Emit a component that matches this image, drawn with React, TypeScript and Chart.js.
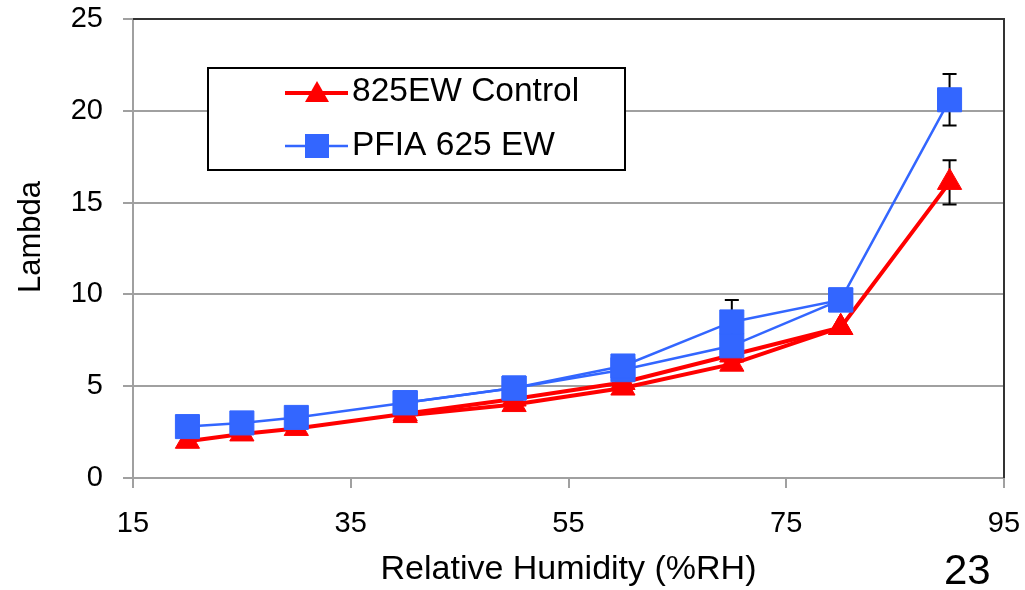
import React, { useEffect, useRef } from "react";
import { Chart, registerables } from "chart.js";

Chart.register(...registerables);

// ---- data ----
const rhMain = [20, 25, 30, 40, 50, 60, 70, 80, 90];
const controlMain = [2.0, 2.4, 2.7, 3.5, 4.3, 5.2, 6.7, 8.2, 16.1];
const pfiaMain = [2.8, 3.0, 3.3, 4.1, 4.9, 6.1, 8.5, 9.7, 20.6];
const controlErr = [0, 0, 0, 0, 0, 0, 0, 0, 1.2];
const pfiaErr = [0, 0, 0, 0, 0, 0, 1.2, 0, 1.4];

const rhSecond = [40, 50, 60, 70, 80];
const controlSecond = [3.4, 4.0, 4.9, 6.2, 8.2];
const pfiaSecond = [4.1, 4.9, 5.9, 7.2, 9.7];

const xTicks = [15, 35, 55, 75, 95];
const yTicks = [0, 5, 10, 15, 20, 25];

const legendLabels = ["825EW Control", "PFIA 625 EW"];
const xTitle = "Relative Humidity (%RH)";
const yTitle = "Lambda";
const slideNumber = "23";

const RED = "#ff0000";
const BLUE = "#3366ff";
const GRID = "#a0a0a0";
const FONT = "'Liberation Sans', Arial, sans-serif";

const pts = (xs: number[], ys: number[]) => xs.map((x, i) => ({ x, y: ys[i] }));

const zeroPad = (s: any) => {
  s.paddingTop = 0;
  s.paddingBottom = 0;
  s.paddingLeft = 0;
  s.paddingRight = 0;
};

const extrasPlugin = {
  id: "extras",
  beforeDatasetsDraw(chart: any) {
    const { ctx, chartArea, scales } = chart;
    const xs = scales.x;
    const ys = scales.y;
    ctx.save();
    // top & right plot border
    ctx.strokeStyle = "#333333";
    ctx.lineWidth = 2;
    ctx.beginPath();
    ctx.moveTo(chartArea.left, chartArea.top);
    ctx.lineTo(chartArea.right, chartArea.top);
    ctx.lineTo(chartArea.right, chartArea.bottom);
    ctx.stroke();
    // error bars
    ctx.strokeStyle = "#000000";
    ctx.lineWidth = 2;
    const drawErr = (xv: number[], yv: number[], ev: number[]) => {
      xv.forEach((x, i) => {
        const e = ev[i];
        if (!e) return;
        const px = xs.getPixelForValue(x);
        const top = ys.getPixelForValue(yv[i] + e);
        const bot = ys.getPixelForValue(yv[i] - e);
        ctx.beginPath();
        ctx.moveTo(px, top);
        ctx.lineTo(px, bot);
        ctx.moveTo(px - 7, top);
        ctx.lineTo(px + 7, top);
        ctx.moveTo(px - 7, bot);
        ctx.lineTo(px + 7, bot);
        ctx.stroke();
      });
    };
    drawErr(rhMain, controlMain, controlErr);
    drawErr(rhMain, pfiaMain, pfiaErr);
    ctx.restore();
  },
  afterDraw(chart: any) {
    const { ctx } = chart;
    ctx.save();
    // legend box
    ctx.fillStyle = "#ffffff";
    ctx.fillRect(208, 68, 417, 102);
    ctx.strokeStyle = "#000000";
    ctx.lineWidth = 2;
    ctx.strokeRect(208, 68, 417, 102);
    // red entry
    ctx.strokeStyle = RED;
    ctx.lineWidth = 4;
    ctx.beginPath();
    ctx.moveTo(285, 93);
    ctx.lineTo(348, 93);
    ctx.stroke();
    ctx.fillStyle = RED;
    ctx.beginPath();
    ctx.moveTo(317, 81);
    ctx.lineTo(329, 102);
    ctx.lineTo(305, 102);
    ctx.closePath();
    ctx.fill();
    // blue entry
    ctx.strokeStyle = BLUE;
    ctx.lineWidth = 2.5;
    ctx.beginPath();
    ctx.moveTo(285, 146);
    ctx.lineTo(348, 146);
    ctx.stroke();
    ctx.fillStyle = BLUE;
    ctx.fillRect(305, 134, 24, 24);
    // legend text
    ctx.fillStyle = "#000000";
    ctx.font = `33.5px ${FONT}`;
    ctx.textBaseline = "middle";
    ctx.textAlign = "left";
    ctx.fillText(legendLabels[0], 352, 92);
    ctx.fillText(legendLabels[1], 352, 146);
    // y title
    ctx.font = `31px ${FONT}`;
    ctx.translate(31, 237);
    ctx.rotate(-Math.PI / 2);
    ctx.textAlign = "center";
    ctx.fillText(yTitle, 0, 0);
    ctx.restore();
  },
};

export default function App() {
  const ref = useRef<HTMLCanvasElement | null>(null);
  useEffect(() => {
    if (!ref.current) return;
    const chart = new Chart(ref.current, {
      type: "line",
      data: {
        datasets: [
          {
            label: legendLabels[1],
            data: pts(rhMain, pfiaMain),
            borderColor: BLUE,
            backgroundColor: BLUE,
            borderWidth: 2.5,
            pointStyle: "rect",
            pointRadius: 17,
            pointBorderWidth: 1,
            pointBorderColor: BLUE,
            pointBackgroundColor: BLUE,
          },
          {
            label: legendLabels[1] + " (2)",
            data: pts(rhSecond, pfiaSecond),
            borderColor: BLUE,
            backgroundColor: BLUE,
            borderWidth: 2.5,
            pointStyle: "rect",
            pointRadius: 17,
            pointBorderWidth: 1,
            pointBorderColor: BLUE,
            pointBackgroundColor: BLUE,
          },
          {
            label: legendLabels[0],
            data: pts(rhMain, controlMain),
            borderColor: RED,
            backgroundColor: RED,
            borderWidth: 4,
            pointStyle: "triangle",
            pointRadius: 14,
            pointBorderWidth: 1,
            pointBorderColor: RED,
            pointBackgroundColor: RED,
          },
          {
            label: legendLabels[0] + " (2)",
            data: pts(rhSecond, controlSecond),
            borderColor: RED,
            backgroundColor: RED,
            borderWidth: 4,
            pointStyle: "triangle",
            pointRadius: 14,
            pointBorderWidth: 1,
            pointBorderColor: RED,
            pointBackgroundColor: RED,
          },
        ],
      },
      options: {
        animation: false,
        responsive: false,
        devicePixelRatio: 1,
        layout: { padding: { top: 19, right: 21, left: 0, bottom: 0 } },
        plugins: { legend: { display: false }, tooltip: { enabled: false } },
        scales: {
          x: {
            type: "linear",
            min: 15,
            max: 95,
            afterBuildTicks: (s: any) => {
              s.ticks = xTicks.map((v) => ({ value: v }));
            },
            afterFit: (s: any) => {
              s.height = 112;
              zeroPad(s);
            },
            ticks: {
              color: "#000",
              font: { family: FONT, size: 29 },
              padding: 19,
              maxRotation: 0,
            },
            grid: {
              drawOnChartArea: false,
              drawTicks: true,
              tickLength: 10,
              color: GRID,
              lineWidth: 2,
            },
            border: { color: GRID, width: 2 },
            title: {
              display: true,
              text: xTitle,
              color: "#000",
              font: { family: FONT, size: 34 },
              padding: { top: 0, bottom: 0 },
            },
          },
          y: {
            type: "linear",
            min: 0,
            max: 25,
            afterBuildTicks: (s: any) => {
              s.ticks = yTicks.map((v) => ({ value: v }));
            },
            afterFit: (s: any) => {
              s.width = 133;
              zeroPad(s);
            },
            ticks: {
              color: "#000",
              font: { family: FONT, size: 29 },
              padding: 20,
            },
            grid: {
              drawOnChartArea: true,
              drawTicks: true,
              tickLength: 10,
              color: GRID,
              lineWidth: 2,
            },
            border: { color: GRID, width: 2 },
          },
        },
      },
      plugins: [extrasPlugin],
    });
    return () => chart.destroy();
  }, []);

  return (
    <div style={{ position: "absolute", left: 0, top: 0, width: 1025, height: 590, background: "#fff", overflow: "hidden" }}>
      <canvas ref={ref} width={1025} height={590} style={{ display: "block" }} />
      <div
        style={{
          position: "absolute",
          left: 944,
          top: 546,
          fontFamily: FONT,
          fontSize: 42,
          lineHeight: "48px",
          color: "#000",
        }}
      >
        {slideNumber}
      </div>
    </div>
  );
}
